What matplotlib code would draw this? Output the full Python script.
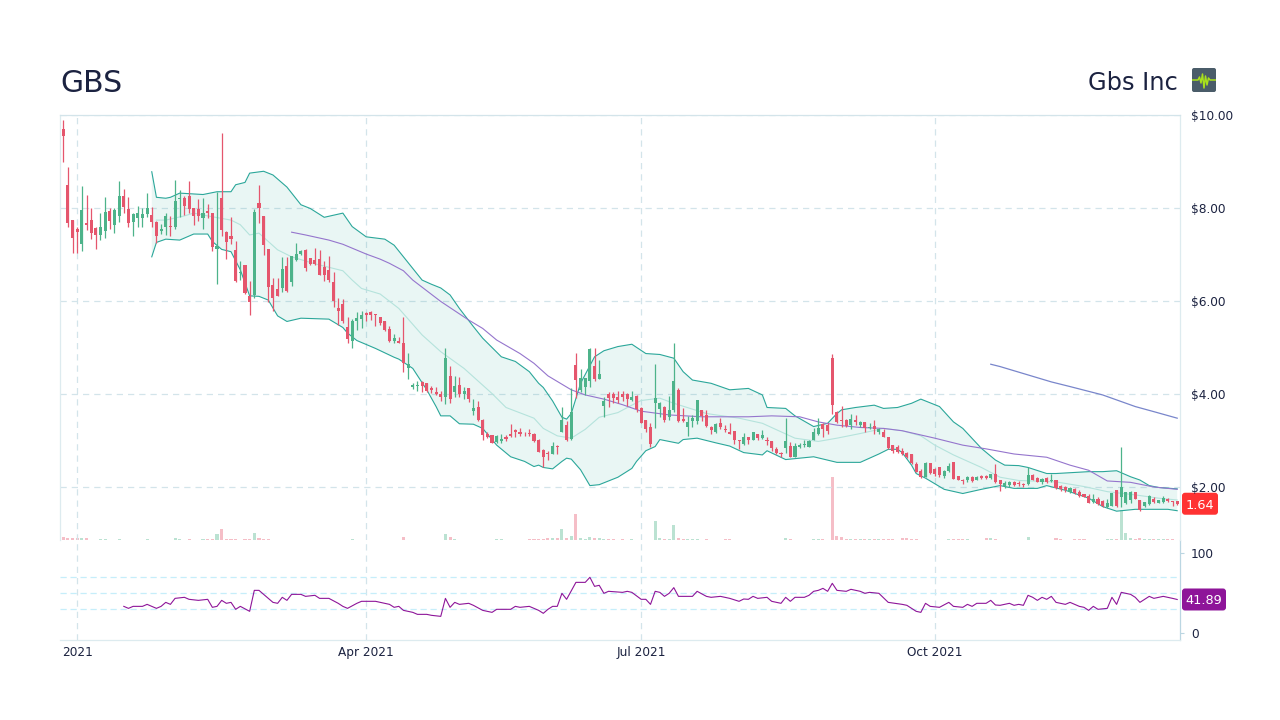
# GBS daily candles with bollinger bands, moving averages, volume and RSI
import numpy as np
import matplotlib
matplotlib.use('Agg')
import matplotlib.pyplot as plt
from matplotlib.patches import FancyBboxPatch
from matplotlib.transforms import IdentityTransform

ticker = 'GBS'
company = 'Gbs Inc'

highs = [9.89,8.88,7.74,7.60,8.47,8.28,7.99,7.60,7.89,8.23,
         7.99,7.99,8.58,8.40,8.23,7.89,8.05,7.99,8.32,8.02,
         7.71,7.65,7.89,7.83,8.60,8.39,8.25,8.58,7.99,8.19,
         8.21,8.08,7.90,8.34,9.62,7.51,7.80,7.29,6.85,6.78,
         6.42,7.98,8.50,7.82,7.11,6.50,6.49,6.95,6.95,6.97,
         7.24,7.10,7.11,6.92,7.13,7.10,6.85,6.97,6.63,6.06,
         6.04,5.66,5.61,5.76,5.79,5.76,5.79,5.72,5.66,5.58,
         5.47,5.30,5.23,5.65,4.89,4.23,4.29,4.28,4.23,4.17,
         4.16,4.07,4.98,4.61,4.39,4.37,4.14,4.12,3.89,3.84,
         3.46,3.18,3.12,3.12,3.14,3.12,3.36,3.24,3.26,3.19,
         3.24,3.17,3.03,2.81,2.77,2.97,2.90,3.73,3.42,4.12,
         4.89,4.53,4.34,4.98,4.98,4.73,3.93,4.05,4.05,4.07,
         4.07,4.03,4.07,3.98,3.71,3.45,3.37,4.64,3.83,3.74,
         3.96,5.09,4.12,3.69,3.53,3.55,3.87,3.66,3.66,3.31,
         3.37,3.48,3.33,3.37,3.20,3.01,3.17,3.08,3.19,3.15,
         3.23,3.08,2.99,2.85,2.75,3.48,2.97,2.94,2.94,3.01,
         3.01,3.26,3.49,3.37,3.37,4.85,3.63,3.75,3.47,3.57,
         3.55,3.43,3.39,3.37,3.44,3.26,3.25,3.07,2.90,2.90,
         2.83,2.76,2.72,2.54,2.38,2.53,2.52,2.40,2.44,2.37,
         2.52,2.54,2.24,2.18,2.24,2.24,2.24,2.26,2.25,2.29,
         2.49,2.15,2.13,2.13,2.13,2.12,2.09,2.42,2.28,2.22,
         2.20,2.21,2.28,2.14,2.04,2.02,1.99,1.97,1.93,1.86,
         1.84,1.84,1.79,1.73,1.75,1.88,1.93,2.87,1.90,1.91,
         1.90,1.73,1.68,1.83,1.78,1.73,1.81,1.76,1.70,1.70]
lows = [9.00,7.60,7.03,7.03,7.08,7.53,7.33,7.11,7.31,7.35,
        7.54,7.46,7.69,7.90,7.59,7.39,7.60,7.59,7.80,7.59,
        7.24,7.44,7.41,7.39,7.54,7.80,7.85,7.89,7.64,7.71,
        7.54,7.78,7.08,6.36,7.39,6.90,7.22,6.40,6.45,6.15,
        5.70,6.07,7.67,7.00,5.97,5.79,6.10,6.20,6.20,6.33,
        6.85,6.99,6.65,6.78,6.78,6.55,6.44,6.41,5.88,5.49,
        5.52,5.09,5.00,5.38,5.41,5.58,5.59,5.47,5.48,5.36,
        5.11,5.10,5.09,4.48,4.32,4.10,4.07,4.04,4.05,4.03,
        3.98,3.84,3.78,3.80,3.93,3.93,3.89,3.82,3.55,3.41,
        3.01,3.05,2.94,2.94,2.95,3.00,3.07,3.08,3.10,3.10,
        3.10,2.96,2.75,2.42,2.59,2.70,2.72,3.19,3.00,3.01,
        3.91,4.05,3.98,4.16,4.29,4.32,3.50,3.73,3.80,3.80,
        3.86,3.74,3.86,3.62,3.37,3.19,2.87,3.26,3.50,3.40,
        3.44,3.62,3.40,3.40,3.10,3.30,3.35,3.43,3.28,3.15,
        3.17,3.25,3.19,3.14,2.92,2.81,2.90,2.92,3.01,3.01,
        3.03,2.90,2.78,2.71,2.65,2.74,2.64,2.64,2.83,2.85,
        2.85,3.01,3.11,3.07,3.15,3.58,3.38,3.30,3.28,3.24,
        3.33,3.30,3.19,3.25,3.13,3.15,3.08,2.81,2.74,2.74,
        2.69,2.62,2.49,2.32,2.19,2.21,2.29,2.24,2.22,2.20,
        2.33,2.18,2.14,2.06,2.11,2.11,2.14,2.17,2.17,2.17,
        2.09,1.92,1.97,1.99,2.02,2.03,1.99,2.04,2.15,2.10,
        2.06,2.09,2.11,1.95,1.92,1.90,1.88,1.85,1.79,1.78,
        1.65,1.65,1.61,1.56,1.54,1.59,1.58,1.58,1.63,1.66,
        1.74,1.49,1.58,1.61,1.65,1.65,1.65,1.67,1.59,1.61]
opens = [9.70,8.50,7.74,7.54,7.23,7.68,7.74,7.58,7.42,7.51,
         7.94,7.64,7.82,8.26,7.98,7.69,7.79,7.79,7.87,7.85,
         7.70,7.51,7.60,7.62,7.59,8.19,8.21,8.26,7.99,7.98,
         7.78,7.94,7.90,7.11,8.21,7.49,7.39,7.10,6.60,6.78,
         6.11,6.13,8.10,7.82,7.11,6.35,6.25,6.29,6.75,6.40,
         6.88,7.02,7.10,6.92,6.88,6.90,6.73,6.67,6.41,5.84,
         5.94,5.45,5.13,5.58,5.61,5.74,5.76,5.71,5.65,5.56,
         5.40,5.14,5.14,5.09,4.55,4.14,4.17,4.26,4.23,4.12,
         4.04,4.00,3.93,4.39,4.05,4.19,4.00,4.12,3.63,3.73,
         3.44,3.14,3.11,2.97,3.00,3.08,3.14,3.23,3.18,3.15,
         3.17,3.14,3.01,2.80,2.74,2.72,2.89,3.19,3.33,3.03,
         4.62,4.09,4.16,4.27,4.60,4.33,3.74,4.00,4.00,3.93,
         4.00,4.01,3.87,3.96,3.69,3.45,3.28,3.81,3.68,3.73,
         3.50,3.66,4.09,3.46,3.28,3.41,3.43,3.66,3.55,3.30,
         3.19,3.38,3.25,3.18,3.20,3.01,2.92,3.07,3.01,3.15,
         3.05,3.00,2.99,2.82,2.74,2.83,2.88,2.64,2.87,2.90,
         2.87,3.01,3.15,3.35,3.33,4.77,3.62,3.44,3.44,3.33,
         3.44,3.34,3.39,3.26,3.31,3.19,3.18,3.07,2.90,2.85,
         2.78,2.74,2.71,2.49,2.35,2.21,2.51,2.38,2.42,2.24,
         2.34,2.53,2.24,2.16,2.15,2.22,2.15,2.24,2.23,2.20,
         2.29,2.14,2.02,2.04,2.10,2.09,2.07,2.07,2.26,2.19,
         2.10,2.19,2.12,2.14,2.02,1.99,1.89,1.95,1.90,1.84,
         1.81,1.67,1.74,1.70,1.58,1.59,1.93,1.78,1.65,1.72,
         1.89,1.72,1.59,1.63,1.75,1.66,1.67,1.75,1.70,1.69]
closes = [9.55,7.68,7.36,7.49,7.96,7.64,7.47,7.42,7.60,7.92,
          7.71,7.96,8.26,8.03,7.67,7.87,7.90,7.87,8.01,7.69,
          7.39,7.55,7.83,7.59,8.14,8.21,8.05,7.97,7.83,7.82,
          7.89,7.90,7.16,7.19,7.53,7.26,7.33,6.43,6.62,6.17,
          5.97,7.92,7.99,7.21,6.30,6.06,6.11,6.68,6.22,6.97,
          7.00,7.08,6.70,6.80,6.80,6.55,6.55,6.45,5.99,5.79,
          5.57,5.18,5.56,5.64,5.70,5.70,5.69,5.69,5.53,5.38,
          5.13,5.20,5.10,4.67,4.65,4.19,4.19,4.17,4.07,4.09,
          3.99,3.93,4.77,3.89,4.17,4.00,4.07,3.89,3.69,3.44,
          3.12,3.07,2.95,3.09,3.03,3.03,3.10,3.18,3.13,3.13,
          3.13,2.99,2.76,2.64,2.71,2.89,2.87,3.44,3.01,3.61,
          4.30,4.34,4.34,4.97,4.32,4.44,3.84,3.91,3.91,3.87,
          3.93,3.89,3.94,3.67,3.38,3.24,2.92,3.91,3.81,3.45,
          3.66,4.28,3.43,3.42,3.39,3.49,3.87,3.53,3.31,3.23,
          3.35,3.30,3.23,3.15,3.02,3.00,3.07,3.01,3.18,3.05,
          3.12,2.98,2.83,2.74,2.70,2.99,2.65,2.88,2.91,2.92,
          2.99,3.18,3.27,3.24,3.20,3.76,3.39,3.41,3.32,3.46,
          3.40,3.39,3.26,3.28,3.24,3.25,3.08,2.83,2.78,2.76,
          2.72,2.65,2.52,2.33,2.22,2.52,2.31,2.28,2.26,2.35,
          2.45,2.18,2.15,2.12,2.22,2.13,2.21,2.19,2.20,2.27,
          2.10,2.06,2.09,2.11,2.04,2.07,2.04,2.26,2.16,2.11,
          2.17,2.10,2.16,1.97,1.95,1.93,1.97,1.88,1.81,1.79,
          1.66,1.75,1.63,1.59,1.65,1.88,1.59,1.99,1.89,1.90,
          1.75,1.50,1.68,1.81,1.67,1.72,1.76,1.70,1.68,1.64]

volume = [3,2,2,2,2,2,.5,.5,1.5,1.5,
          .5,.5,1.5,.5,.5,.5,.5,.5,1.5,.5,
          .5,.5,.5,.5,2,1.5,.5,1,.5,.5,
          1,1,1.5,6,11,1.5,1.5,1.5,.5,1.5,
          1,7,2,1.5,1.5,.5,.5,.5,.5,.5,
          .5,.5,.5,.5,.5,.5,.5,.5,.5,.5,
          .5,.5,1.5,.5,.5,.5,.5,.5,.5,.5,
          .5,.5,.5,3,.5,.5,.5,.5,.5,.5,
          .5,.5,6,3,1.5,.5,.5,.5,.5,.5,
          .5,.5,.5,1.5,1.5,.5,.5,.5,.5,.5,
          1.5,1.5,1.5,1.5,2,2,2,11,2,4.5,
          26,2,1.5,3,2.5,2,1.5,1.5,1.5,.5,
          1,.5,1,.5,.5,.5,.5,19,2,1.5,
          1.5,15,2.5,1.5,1.5,1.5,1.5,.5,1.5,.5,
          .5,.5,1.5,1.5,.5,.5,.5,.5,.5,.5,
          .5,.5,.5,.5,.5,2.5,1.5,.5,.5,.5,
          .5,1,1,1,.5,63,4,3,1.5,1.5,
          1.5,1.5,1.5,1.5,1.5,1.5,1.5,1.5,1.5,.5,
          2.5,2,1.5,1.5,.5,.5,.5,.5,.5,.5,
          1.5,1.5,1.5,1.5,1.5,.5,.5,.5,2,2,
          1.5,.5,.5,.5,.5,.5,.5,3,.5,.5,
          .5,.5,.5,2.5,1,.5,.5,1,1,1,
          .5,.5,.5,.5,1,1,1.5,30,7,2.5,
          1.5,2,1.5,1.5,1,1,1.5,1,1.5,.5]

bb_upper_days = [19,20,22,23,25,30,33,36,37,39,40,43,45,48,51,53,56,60,62,65,69,71,73,75,77,79,81,83,85,88,90,94,97,100,102,103,105,107,108,109,111,114,116,119,122,125,128,131,133,135,139,143,147,150,151,155,157,161,164,166,167,170,174,176,179,182,184,186,188,191,193,197,200,202,205,207,211,213,220,223,226,229,231,233,235,239]
bb_upper = [8.78,8.23,8.21,8.23,8.32,8.29,8.35,8.35,8.50,8.55,8.75,8.79,8.71,8.45,8.07,7.99,7.80,7.89,7.60,7.38,7.33,7.20,6.95,6.70,6.45,6.36,6.28,6.13,5.84,5.45,5.20,4.80,4.70,4.48,4.23,4.14,3.85,3.50,3.46,3.58,4.23,4.80,4.93,5.02,5.07,4.87,4.85,4.77,4.48,4.30,4.23,4.09,4.12,3.98,3.71,3.69,3.53,3.30,3.37,3.58,3.66,3.71,3.76,3.69,3.71,3.80,3.89,3.81,3.73,3.40,3.26,2.83,2.58,2.47,2.46,2.42,2.29,2.29,2.33,2.33,2.35,2.22,2.15,2.03,1.99,1.96]
bb_lower_days = [19,20,22,25,28,31,32,34,36,38,40,42,44,46,48,51,57,60,61,63,67,71,72,75,78,80,81,83,85,88,90,93,96,99,101,102,103,105,107,108,109,111,113,115,119,122,123,125,127,128,132,133,136,140,143,146,150,151,155,161,166,171,175,177,179,180,182,183,185,189,193,197,201,204,209,211,215,220,223,226,230,237,239]
bb_lower = [6.95,7.26,7.33,7.31,7.44,7.44,7.28,7.11,7.06,6.67,6.11,6.10,6.02,5.68,5.56,5.63,5.61,5.43,5.31,5.15,4.98,4.79,4.75,4.55,4.09,3.73,3.53,3.53,3.36,3.35,3.26,2.90,2.65,2.55,2.44,2.47,2.42,2.39,2.55,2.62,2.60,2.37,2.03,2.05,2.21,2.40,2.55,2.78,2.87,3.02,2.94,3.02,3.05,2.95,2.88,2.74,2.69,2.78,2.59,2.65,2.53,2.53,2.71,2.81,2.81,2.74,2.47,2.29,2.19,1.95,1.86,1.95,2.03,1.97,1.97,2.03,1.93,1.76,1.58,1.48,1.52,1.52,1.49]
bb_mid_days = [20,22,26,28,31,36,38,40,42,46,49,54,60,62,64,68,72,77,81,86,92,95,101,103,106,109,112,115,119,122,124,128,131,138,145,150,157,162,166,171,176,180,184,187,191,197,201,205,213,219,224,230,235,239]
bb_mid = [7.74,7.74,7.83,7.89,7.83,7.74,7.64,7.42,7.46,7.10,6.95,6.80,6.65,6.45,6.27,6.15,5.84,5.27,4.91,4.55,4.01,3.71,3.48,3.26,3.10,3.05,3.24,3.50,3.60,3.76,3.86,3.91,3.80,3.58,3.48,3.37,3.05,2.98,3.05,3.15,3.26,3.21,3.10,2.90,2.69,2.42,2.21,2.14,2.11,2.01,1.90,1.83,1.76,1.72]

sma50_days = [49,52,57,60,65,68,70,73,75,81,87,90,93,98,101,104,109,112,116,120,124,130,137,147,152,158,162,166,171,176,180,187,193,198,204,211,216,220,224,229,234,239]
sma50 = [7.48,7.42,7.31,7.22,7.01,6.90,6.81,6.65,6.45,5.99,5.59,5.41,5.16,4.87,4.66,4.39,4.09,3.98,3.89,3.77,3.63,3.55,3.51,3.51,3.53,3.51,3.40,3.33,3.28,3.26,3.21,3.05,2.90,2.82,2.71,2.64,2.47,2.36,2.13,2.10,2.00,1.95]
sma200_days = [199,201,206,212,216,223,230,234,239]
sma200 = [4.64,4.59,4.44,4.26,4.16,3.98,3.73,3.62,3.48]

rsi_days = [13,14,15,17,18,20,21,22,23,24,26,27,29,31,32,33,34,35,36,37,38,40,41,42,44,45,46,47,48,49,51,52,54,55,57,59,60,61,63,64,67,70,71,72,73,75,76,78,79,81,82,83,84,85,87,88,90,92,93,96,97,98,100,102,103,104,105,106,107,108,110,112,113,114,115,116,117,120,121,122,124,125,126,127,128,129,130,131,132,135,136,138,139,141,143,145,146,147,148,149,151,152,154,155,156,157,159,160,161,162,163,164,165,166,168,169,171,172,173,175,177,180,181,182,183,184,185,186,188,190,191,193,194,195,196,198,199,200,201,203,204,205,206,207,208,209,210,211,212,213,215,216,218,219,220,221,222,224,225,226,227,229,230,231,233,234,236,238,239]
rsi = [33.3,30.8,33.3,33.3,35.8,30.8,33.3,38.3,35.8,43.3,44.6,42.1,40.8,42.1,32.1,33.3,40.8,37.1,38.3,29.6,33.3,27.1,53.3,53.3,43.3,38.3,37.1,44.6,40.8,48.3,48.3,45.8,47.1,43.3,43.3,37.1,33.3,30.8,37.1,39.6,39.6,35.8,32.1,33.3,28.3,25.8,23.3,23.3,22.1,20.8,43.3,32.1,38.3,35.8,37.1,34.6,28.3,25.8,29.6,29.6,33.3,32.1,33.3,28.3,24.6,29.6,33.3,33.3,49.6,42.1,63.3,63.3,69.6,58.3,59.6,49.6,52.1,50.8,52.1,50.8,42.1,42.1,35.8,52.1,50.8,45.8,49.6,56.7,45.8,45.8,52.1,45.8,44.6,45.8,43.3,39.6,42.5,42.1,45.8,43.3,44.6,39.6,37.1,44.6,39.6,44.6,44.6,47.1,52.1,53.3,55.8,52.1,62.1,53.3,52.1,54.6,52.1,49.6,50.8,49.6,38.3,35.8,34.6,30.8,27.1,25.8,37.1,33.3,32.1,38.3,33.3,32.1,35.8,33.3,37.1,37.1,40.8,35,34.6,37.1,34.6,35.8,34.6,47.1,44.6,40.8,44.6,42.1,45.8,38.3,35.8,38.3,33.3,32.1,28.3,33.3,29.6,30.8,44.6,35.8,50.8,48.3,44.6,38.3,45.8,43.3,45.8,43.3,41.89]

price_ticks = [2, 4, 6, 8, 10]
rsi_ticks = [0, 100]
rsi_guides = [30, 50, 70]
date_ticks = [3, 65, 124, 187]
date_labels = ['2021', 'Apr 2021', 'Jul 2021', 'Oct 2021']

GREEN = '#4DB38A'
RED = '#E5566D'
TEAL = '#2BA79A'
INK = '#1B2240'
GRID = '#D3E4EA'
EDGE = '#DDEBEF'
W, H = 1280, 720


def box(left, top, right, bottom):
    return [left / W, 1 - bottom / H, (right - left) / W, (bottom - top) / H]


def value_tag(axes, value, width, color):
    # rounded tag just right of the pane, centred on the value
    y = axes.transData.transform((0, value))[1]
    fig.add_artist(FancyBboxPatch((1182, y - 11), width, 22, boxstyle='round,pad=0,rounding_size=3',
                                  fc=color, ec='none', transform=IdentityTransform()))
    fig.text(1182 / W + width / 2 / W, y / H, '%.2f' % value, color='white', fontsize=9.3,
             ha='center', va='center_baseline')


fig = plt.figure(figsize=(12.8, 7.2), dpi=100)
ax = fig.add_axes(box(60, 115, 1180, 540))
ax_vol = fig.add_axes(box(60, 115, 1180, 540), sharex=ax)
ax_rsi = fig.add_axes(box(60, 540, 1180, 640), sharex=ax)

days = np.arange(len(closes))
o = np.array(opens)
c = np.array(closes)
colors = [GREEN if cl >= op else RED for op, cl in zip(opens, closes)]

# volume sits behind the price
ax_vol.set_zorder(0)
ax.set_zorder(1)
ax.patch.set_alpha(0)
ax_vol.bar(days, volume, width=0.66, color=colors, alpha=0.38, linewidth=0)
ax_vol.set_ylim(0, 425)
ax_vol.axis('off')

# bands
ax.fill(np.r_[bb_upper_days, bb_lower_days[::-1]], np.r_[bb_upper, bb_lower[::-1]],
        color=TEAL, alpha=0.10, linewidth=0, zorder=1)
ax.plot(bb_upper_days, bb_upper, color=TEAL, lw=0.8, zorder=2)
ax.plot(bb_lower_days, bb_lower, color=TEAL, lw=0.8, zorder=2)
ax.plot(bb_mid_days, bb_mid, color='#B5E3DC', lw=0.8, zorder=2)
ax.plot(sma50_days, sma50, color='#9575CD', lw=0.8, zorder=2)
ax.plot(sma200_days, sma200, color='#7986CB', lw=0.9, zorder=2)

# candles
ax.vlines(days, lows, highs, colors=colors, lw=0.9, zorder=3)
ax.bar(days, np.abs(c - o), bottom=np.minimum(o, c), width=0.66, color=colors, linewidth=0, zorder=4)

ax.set_xlim(-0.687, 239.6)
ax.set_ylim(10 - 425 / 46.5, 10)
ax.yaxis.tick_right()
ax.set_yticks(price_ticks)
ax.set_yticklabels(['$%.2f' % t for t in price_ticks])
ax.tick_params(axis='y', length=0, pad=8, labelsize=8.7, labelcolor=INK)
ax.tick_params(axis='x', length=0, labelbottom=False)
ax.grid(True, axis='y', color=GRID, ls=(0, (5, 4)), lw=0.9)
ax.set_xticks(date_ticks)
ax.grid(True, axis='x', color=GRID, ls=(0, (5, 4)), lw=0.9)
ax.set_axisbelow(True)
for side in ['top', 'left', 'right']:
    ax.spines[side].set_color(EDGE)
    ax.spines[side].set_linewidth(0.9)
ax.spines['bottom'].set_visible(False)
ax.spines['top'].set_color(GRID)

# rsi pane
ax_rsi.plot(rsi_days, rsi, color='#8E1599', lw=0.8, zorder=3)
for g in rsi_guides:
    ax_rsi.axhline(g, color='#C6EEFA', ls=(0, (5, 3)), lw=0.9, zorder=1)
ax_rsi.set_ylim((633 - 640) / 0.8, (633 - 540) / 0.8)
ax_rsi.yaxis.tick_right()
ax_rsi.set_yticks(rsi_ticks)
ax_rsi.tick_params(axis='y', length=3, width=0.8, color='#BBD6E2', pad=5, labelsize=8.7, labelcolor=INK)
ax_rsi.set_xticks(date_ticks)
ax_rsi.set_xticklabels(date_labels)
ax_rsi.tick_params(axis='x', length=0, pad=4, labelsize=8.7, labelcolor=INK)
ax_rsi.grid(True, axis='x', color=GRID, ls=(0, (5, 4)), lw=0.9)
ax_rsi.set_axisbelow(True)
ax_rsi.spines['bottom'].set_color(EDGE)
ax_rsi.spines['bottom'].set_linewidth(0.9)
ax_rsi.spines['top'].set_visible(False)
ax_rsi.spines['left'].set_visible(False)
ax_rsi.spines['right'].set_color('#BBD6E2')
ax_rsi.spines['right'].set_linewidth(0.9)

# last value tags
value_tag(ax, closes[-1], 36, '#FF3232')
value_tag(ax_rsi, rsi[-1], 44, '#8E1599')

# header
fig.text(60 / W, 1 - 83 / H, ticker, fontsize=21.5, color=INK, ha='left', va='center')
fig.text(1178 / W, 1 - 83 / H, company, fontsize=17.4, color=INK, ha='right', va='center')

# little pulse icon
ax_icon = fig.add_axes(box(1192, 68, 1216, 92))
ax_icon.set_xlim(0, 24)
ax_icon.set_ylim(24, 0)
ax_icon.axis('off')
ax_icon.add_patch(FancyBboxPatch((0, 0), 24, 24, boxstyle='round,pad=0,rounding_size=2', fc='#4A5C69', ec='none'))
ax_icon.plot([0, 6, 7.5, 9, 10.5, 12, 13.5, 15, 16.5, 18, 24], [12, 12, 9, 15, 6, 20, 8, 17, 10, 12, 12],
             color='#A8E01C', lw=1.1)

fig.savefig('out.png', dpi=100)
